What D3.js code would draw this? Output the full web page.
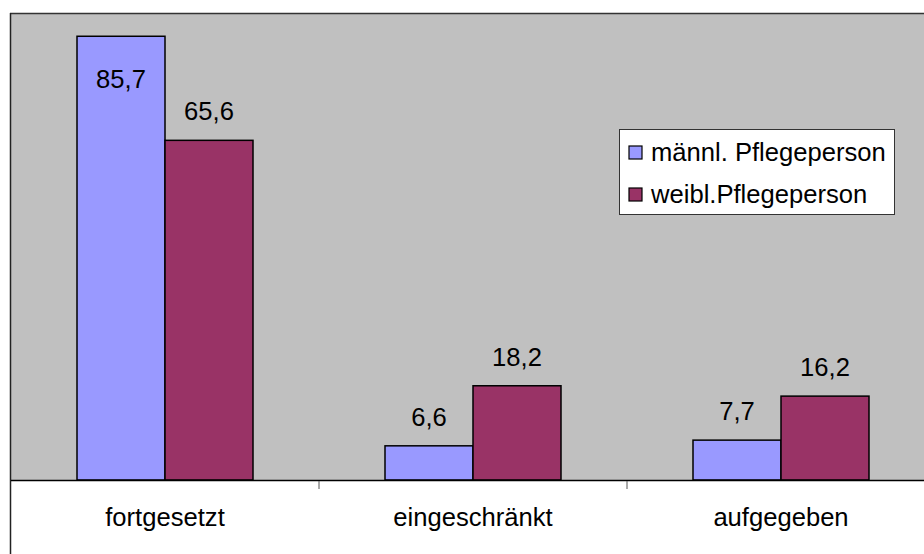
<!DOCTYPE html>
<html><head><meta charset="utf-8">
<script src="https://cdn.jsdelivr.net/npm/d3@7"></script>
<style>body{margin:0;background:#fff}svg{display:block}text{font-family:"Liberation Sans",Arial,sans-serif}</style>
</head><body>
<svg id="c" width="924" height="554"></svg>
<script>
const categories = ["fortgesetzt", "eingeschränkt", "aufgegeben"];
const seriesNames = ["männl. Pflegeperson", "weibl.Pflegeperson"];
const maleValues = [85.7, 6.6, 7.7];
const femaleValues = [65.6, 18.2, 16.2];
const valueLabels = [["85,7","6,6","7,7"],["65,6","18,2","16,2"]];
const colors = ["#9999FF", "#993366"];

(function(){
const FS = 25.6;
const svg = d3.select("#c");
const pl = 11, pt = 14, pb = 480, pr = 935;
const x = d3.scaleBand().domain(categories).range([pl, pr]).paddingInner(0).paddingOuter(0);
const y = d3.scaleLinear().domain([0, 90]).range([pb, pt]);
const groupW = x.bandwidth() * 176/308;
const barW = groupW/2;

svg.append("rect").attr("x", pl).attr("y", pt).attr("width", pr-pl).attr("height", pb-pt).attr("fill", "#C0C0C0");

const series = [maleValues, femaleValues];
series.forEach((vals, si) => {
  categories.forEach((c, ci) => {
    const bx = x(c) + (x.bandwidth()-groupW)/2 + si*barW;
    const v = vals[ci];
    svg.append("rect").attr("x", bx).attr("y", y(v)).attr("width", barW).attr("height", y(0)-y(v))
      .attr("fill", colors[si]).attr("stroke", "#000").attr("stroke-width", 1.5);
    let ty = y(v) - 20;
    if (ty - 20 < pt) ty = y(v) + 52;
    svg.append("text").attr("x", bx + barW/2).attr("y", ty).attr("text-anchor", "middle")
      .attr("font-size", FS).attr("fill", "#000").text(valueLabels[si][ci]);
  });
});

svg.append("line").attr("x1", pl-1).attr("x2", 924).attr("y1", pt-0.5).attr("y2", pt-0.5).attr("stroke", "#333").attr("stroke-width", 1.5);
svg.append("line").attr("x1", pl-0.5).attr("x2", pl-0.5).attr("y1", pt-1).attr("y2", 554).attr("stroke", "#222").attr("stroke-width", 1.5);

const axis = svg.append("g").attr("transform", `translate(0,${pb})`);
axis.append("line").attr("x1", pl).attr("x2", 924).attr("y1", 0.5).attr("y2", 0.5).attr("stroke", "#000").attr("stroke-width", 1.5);
categories.slice(1).forEach(c => {
  axis.append("line").attr("x1", x(c)).attr("x2", x(c)).attr("y1", 1).attr("y2", 9).attr("stroke", "#555").attr("stroke-width", 1);
});
categories.forEach(c => {
  axis.append("text").attr("x", x(c) + x.bandwidth()/2).attr("y", 46).attr("text-anchor", "middle")
    .attr("font-size", FS).attr("fill", "#000").text(c);
});

const lg = svg.append("g").attr("transform", "translate(619,129)");
lg.append("rect").attr("x", 0.5).attr("y", 0.5).attr("width", 275).attr("height", 85).attr("fill", "#fff").attr("stroke", "#333").attr("stroke-width", 1);
seriesNames.forEach((n, i) => {
  const cy = 23 + i*42;
  lg.append("rect").attr("x", 10).attr("y", cy-6).attr("width", 13).attr("height", 13)
    .attr("fill", colors[i]).attr("stroke", "#000").attr("stroke-width", 1.2);
  lg.append("text").attr("x", 32).attr("y", cy+9).attr("font-size", FS).attr("fill", "#000").text(n);
});
})();
</script>
</body></html>
